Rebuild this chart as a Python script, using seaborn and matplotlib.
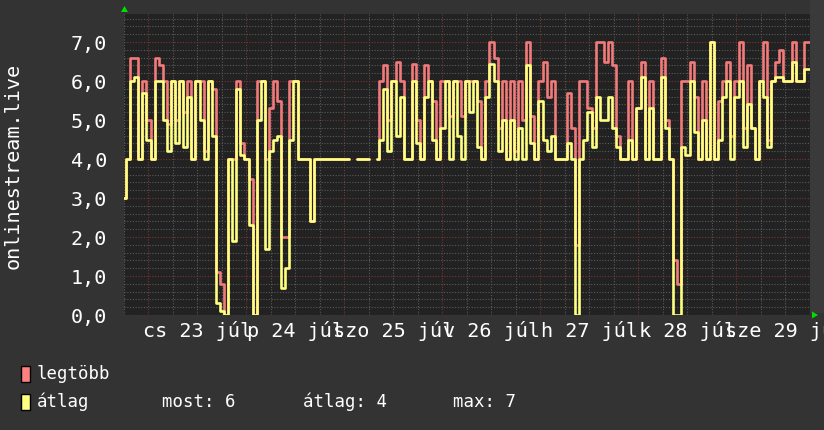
import numpy as np
import pandas as pd
import matplotlib
matplotlib.use("Agg")
import matplotlib.pyplot as plt
import seaborn as sns
from matplotlib.patches import Rectangle, Polygon
from matplotlib.ticker import MultipleLocator, FixedLocator
import matplotlib.transforms as mtransforms

nan = float("nan")

# hours since 22 Jul 18:00 (one reading per hour)
hours = list(range(169))

# "legtöbb" (maximum) series
legtobb = [
    3.0, 4.0, 6.6, 6.6, 4.0, 6.0, 5.0, 4.0, 6.6, 6.4, 6.0, 4.9, 6.0, 5.0, 6.0, 5.2,
    6.0, 4.0, 6.0, 6.0, 4.2, 6.0, 5.8, 1.1, 0.8, 0.0, 4.0, 4.0, 6.0, 4.4, 4.0, 3.5,
    0.0, 6.0, 6.0, 4.0, 5.3, 6.0, 5.5, 2.0, 2.0, 6.0, 6.0, 4.0, 4.0, 4.0, 2.4, 4.0,
    4.0, 4.0, 4.0, 4.0, 4.0, 4.0, 4.0, 4.0, nan, 4.0, 4.0, 4.0, 4.0, nan, 4.0, 6.0,
    6.4, 5.0, 6.0, 6.5, 6.0, 4.0, 4.0, 6.45, 5.0, 4.0, 6.4, 6.0, 5.5, 4.0, 6.0, 6.0,
    5.1, 6.0, 6.0, 5.1, 6.0, 6.0, 6.0, 5.5, 4.0, 6.0, 7.0, 6.6, 4.8, 6.0, 4.0, 6.0,
    4.2, 6.0, 5.0, 7.0, 5.1, 4.0, 6.0, 6.5, 5.6, 6.0, 4.0, 4.0, 4.0, 5.7, 4.8, 1.8,
    6.0, 6.0, 5.3, 4.8, 7.0, 7.0, 6.5, 7.0, 6.4, 4.6, 4.0, 4.0, 6.0, 4.0, 5.3, 6.5,
    4.0, 6.0, 4.0, 4.0, 6.6, 5.0, 4.0, 1.4, 0.8, 6.0, 6.0, 6.5, 5.6, 4.0, 6.0, 4.0,
    7.0, 4.0, 5.5, 6.0, 6.5, 4.6, 6.0, 7.0, 4.8, 6.4, 4.8, 4.0, 6.0, 7.0, 4.5, 6.0,
    6.5, 6.8, 6.0, 6.0, 7.0, 6.0, 6.0, 7.0, 7.0,
]

# "átlag" (average) series
atlag = [
    3.0, 4.0, 6.0, 6.1, 4.0, 5.7, 4.5, 4.0, 6.0, 6.0, 5.0, 4.2, 6.0, 4.4, 6.0, 4.3,
    5.6, 4.0, 6.0, 5.0, 4.0, 6.0, 4.6, 0.3, 0.1, 0.0, 4.0, 1.9, 5.8, 4.1, 4.0, 2.3,
    0.0, 5.0, 6.0, 1.7, 4.2, 4.5, 4.6, 0.7, 1.2, 4.5, 6.0, 4.0, 4.0, 4.0, 2.4, 4.0,
    4.0, 4.0, 4.0, 4.0, 4.0, 4.0, 4.0, 4.0, nan, 4.0, 4.0, 4.0, 4.0, nan, 4.0, 4.5,
    5.8, 4.2, 6.0, 4.6, 5.6, 4.0, 4.0, 6.0, 4.4, 4.0, 5.6, 6.0, 4.5, 4.0, 4.8, 6.0,
    4.0, 6.0, 4.6, 4.0, 6.0, 5.2, 6.0, 4.3, 4.0, 5.6, 6.45, 6.0, 4.2, 5.0, 4.0, 5.0,
    4.0, 4.8, 4.0, 6.4, 4.4, 4.0, 5.5, 4.5, 4.2, 4.6, 4.0, 4.0, 4.0, 4.4, 4.0, 0.0,
    4.0, 4.5, 5.2, 4.3, 5.6, 5.0, 5.0, 5.6, 4.8, 4.3, 4.0, 4.0, 4.5, 4.0, 5.3, 6.1,
    4.0, 5.3, 4.0, 4.0, 6.1, 4.8, 4.0, 0.0, 0.0, 4.3, 4.1, 6.0, 4.7, 4.0, 5.0, 4.0,
    7.0, 4.0, 4.5, 5.6, 6.0, 4.0, 5.6, 6.0, 4.3, 5.4, 4.8, 4.0, 6.0, 5.6, 4.3, 6.0,
    6.1, 6.1, 6.0, 6.0, 6.5, 6.0, 6.0, 6.3, 6.3,
]

day_starts = [6, 30, 54, 78, 102, 126, 150]
day_label_pos = [18, 42, 66, 90, 114, 138, 162]
day_labels = ["cs 23 júl", "p 24 júl", "szo 25 júl", "v 26 júl",
              "h 27 júl", "k 28 júl", "sze 29 júl"]
y_ticks = [0, 1, 2, 3, 4, 5, 6, 7]
y_labels = ["0,0", "1,0", "2,0", "3,0", "4,0", "5,0", "6,0", "7,0"]
legend_names = ["legtöbb", "átlag"]
stats_text = ["most: 6", "átlag: 4", "max: 7"]

sns.set_theme(style="dark")
plt.rcParams["font.family"] = ["DejaVu Sans Mono", "DejaVu Sans"]

W, H = 824, 430
BG = "#333333"
PLOT_BG = "#222222"
RED = "#f27a7a"
YEL = "#ffff80"

fig = plt.figure(figsize=(W / 100, H / 100), dpi=100, facecolor=BG)
ax = fig.add_axes([124 / W, (H - 315) / H, (810 - 124) / W, (315 - 14) / H])
ax.set_facecolor(PLOT_BG)

df = pd.DataFrame({"t": hours, "legtobb": legtobb, "atlag": atlag})
# split into segments at unknown (NaN) readings so gaps stay visible
df["seg"] = df["atlag"].isna().cumsum()
df = df.dropna()

sns.lineplot(data=df, x="t", y="legtobb", units="seg", ax=ax, color=RED, linewidth=1.9,
             drawstyle="steps-mid", estimator=None, sort=False, zorder=3)
sns.lineplot(data=df, x="t", y="atlag", units="seg", ax=ax, color=YEL, linewidth=1.9,
             drawstyle="steps-mid", estimator=None, sort=False, zorder=4)

ax.set_xlim(0, 168)
ax.set_ylim(0, 7.72)
ax.set_xlabel("")
ax.set_ylabel("")

# grid
ax.xaxis.set_major_locator(FixedLocator(day_starts))
ax.xaxis.set_minor_locator(MultipleLocator(6))
ax.set_xticklabels([])
ax.set_yticks(y_ticks)
ax.set_yticklabels(y_labels, color="white", fontsize=14.5)
ax.yaxis.set_minor_locator(MultipleLocator(0.2))
ax.grid(which="major", color="#7a3535", linestyle=(0, (1, 1.5)), linewidth=0.8)
ax.grid(which="minor", color="#5a5a5a", linestyle=(0, (1, 1.5)), linewidth=0.8)
ax.set_axisbelow(True)
ax.tick_params(axis="both", which="both", length=0)
ax.tick_params(axis="y", pad=12)
for s in ax.spines.values():
    s.set_visible(False)

# day labels at noon
trans = mtransforms.blended_transform_factory(ax.transData, fig.transFigure)
for pos, lab in zip(day_label_pos, day_labels):
    ax.text(pos, 1 - 331 / H, lab, transform=trans, ha="center", va="center",
            color="white", fontsize=14.5, clip_on=False)

# y label
fig.text(13 / W, 1 - 166 / H, "onlinestream.live", rotation=90, ha="center",
         va="center", color="white", fontsize=14.5)

# right strip
fig.patches.append(Rectangle((810 / W, (H - 313) / H), 14 / W, 313 / H,
                             transform=fig.transFigure, fc="#3a3a3a", ec="none", zorder=0))

# arrows
fig.patches.append(Polygon([[124.5 / W, 1 - 6 / H], [121 / W, 1 - 12 / H], [128 / W, 1 - 12 / H]],
                           closed=True, transform=fig.transFigure, fc="#00dd00", ec="none"))
fig.patches.append(Polygon([[818 / W, 1 - 315 / H], [812 / W, 1 - 311.5 / H], [812 / W, 1 - 318.5 / H]],
                           closed=True, transform=fig.transFigure, fc="#00dd00", ec="none"))

# legend
for (yc, col, name) in [(374, "#ff8080", legend_names[0]), (402, YEL, legend_names[1])]:
    fig.patches.append(Rectangle((21 / W, 1 - (yc + 8) / H), 9 / W, 16 / H,
                                 transform=fig.transFigure, fc=col, ec="black", lw=1))
    fig.text(37 / W, 1 - yc / H, name, ha="left", va="center", color="white", fontsize=12.5)

for xs, txt in zip([162, 303, 453], stats_text):
    fig.text(xs / W, 1 - 402 / H, txt, ha="left", va="center", color="white", fontsize=12.5)

fig.savefig("out.png", dpi=100, facecolor=BG)
